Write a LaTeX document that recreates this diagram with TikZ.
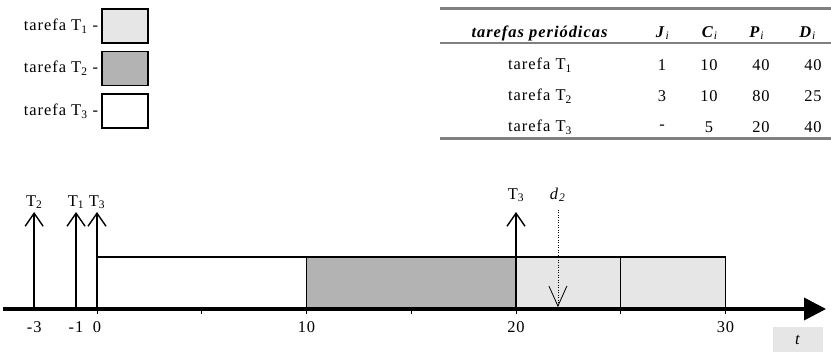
\documentclass[tikz,border=0pt]{standalone}
\usepackage{fontspec}
\setmainfont{Liberation Serif}[LetterSpace=6]
\usepackage{tikz}
\usetikzlibrary{arrows.meta, positioning, calc}
\definecolor{lighttask}{RGB}{230, 230, 230}
\definecolor{midtask}{RGB}{179, 179, 179}
\definecolor{rulegray}{RGB}{128, 128, 128}

\begin{document}
\begin{tikzpicture}[
    x=1bp, y=1bp,
    every node/.style={font=\fontsize{16.5}{19}\selectfont, inner sep=0pt},
    legbox/.style={draw=black, line width=1.4bp, minimum width=46bp, minimum height=34bp},
    bar/.style={draw=black, line width=1.3bp},
    release/.style={-{Straight Barb[length=13bp,width=18bp,line width=1.4bp]}, line width=1.3bp},
    deadline/.style={-{Straight Barb[length=20bp,width=18bp,line width=0.8bp]}, line width=0.5bp, dotted},
    timeaxis/.style={-{Triangle[length=22bp,width=22bp]}, line width=3.5bp},
    tablerule/.style={draw=rulegray, line width=3bp}
]
\useasboundingbox (0,0) rectangle (831,352);

% Legend
\foreach \k/\col in {1/lighttask, 2/midtask, 3/white} {
    \node[legbox, fill=\col] (leg\k) at (125, 368.5-42.5*\k) {};
    \node[anchor=east, left=3bp of leg\k] (legtxt\k) {tarefa T\textsubscript{\k} -};
}

% Table of periodic tasks
\draw[tablerule] (440,343) -- (831,343);
\draw[tablerule, line width=2bp] (440,309) -- (831,309);
\draw[tablerule] (440,214) -- (831,214);
\node (hname) at (540,319) {\textbf{\textit{tarefas periódicas}}};
\node (hJ) at (663,319) {\textbf{\textit{J}}\textsubscript{\textit{i}}};
\node (hC) at (710,319) {\textbf{\textit{C}}\textsubscript{\textit{i}}};
\node (hP) at (757,319) {\textbf{\textit{P}}\textsubscript{\textit{i}}};
\node (hD) at (808,319) {\textbf{\textit{D}}\textsubscript{\textit{i}}};
\foreach \j/\c/\p/\d [count=\k] in {1/10/40/40, 3/10/80/25, -/5/20/40} {
    \node (row\k) at (540, 318-31*\k) {tarefa T\textsubscript{\k}};
    \node (row\k J) at (662, 318-31*\k) {\j};
    \node (row\k C) at (709, 318-31*\k) {\c};
    \node (row\k P) at (761, 318-31*\k) {\p};
    \node (row\k D) at (813, 318-31*\k) {\d};
}

% Time line
\begin{scope}[shift={(97,43)}, x=20.95bp]
    % execution bars
    \draw[bar, fill=white] (0,0) rectangle (10,52);
    \draw[bar, fill=midtask] (10,0) rectangle (20,52);
    \draw[bar, fill=lighttask] (20,0) rectangle (25,52);
    \draw[bar, fill=lighttask] (25,0) rectangle (30,52);

    % axis and ticks
    \coordinate (axl) at (-4.5,0);
    \coordinate (axr) at (34.8,0);
    \draw[timeaxis] (axl) -- (axr);
    \foreach \t in {0,5,...,30} {
        \draw[line width=1bp] (\t,-1) -- (\t,-4.5);
    }
    \foreach \t in {-3,-1,0,10,20,30} {
        \node (tick\t) at (\t,-18) {\t};
    }

    % releases
    \foreach \t/\n/\h in {-3/2/107, -1/1/107, 0/3/107, 20/3/114} {
        \coordinate (rb\t) at (\t,0);
        \coordinate (rt\t) at (\t,97);
        \draw[release] (rb\t) -- (rt\t);
        \node (rel\t) at (\t,\h) {T\textsubscript{\n}};
    }

    % deadline of T2
    \coordinate (d2top) at (22,99);
    \coordinate (d2bot) at (22,2);
    \draw[deadline] (d2top) -- (d2bot);
    \node (d2lab) at (22,114) {\textit{d}\textsubscript{\textit{2}}};
\end{scope}

\node[fill=lighttask, minimum width=50bp, minimum height=25bp] (tlab) at (798,12.5) {\textit{t}};

\end{tikzpicture}
\end{document}
